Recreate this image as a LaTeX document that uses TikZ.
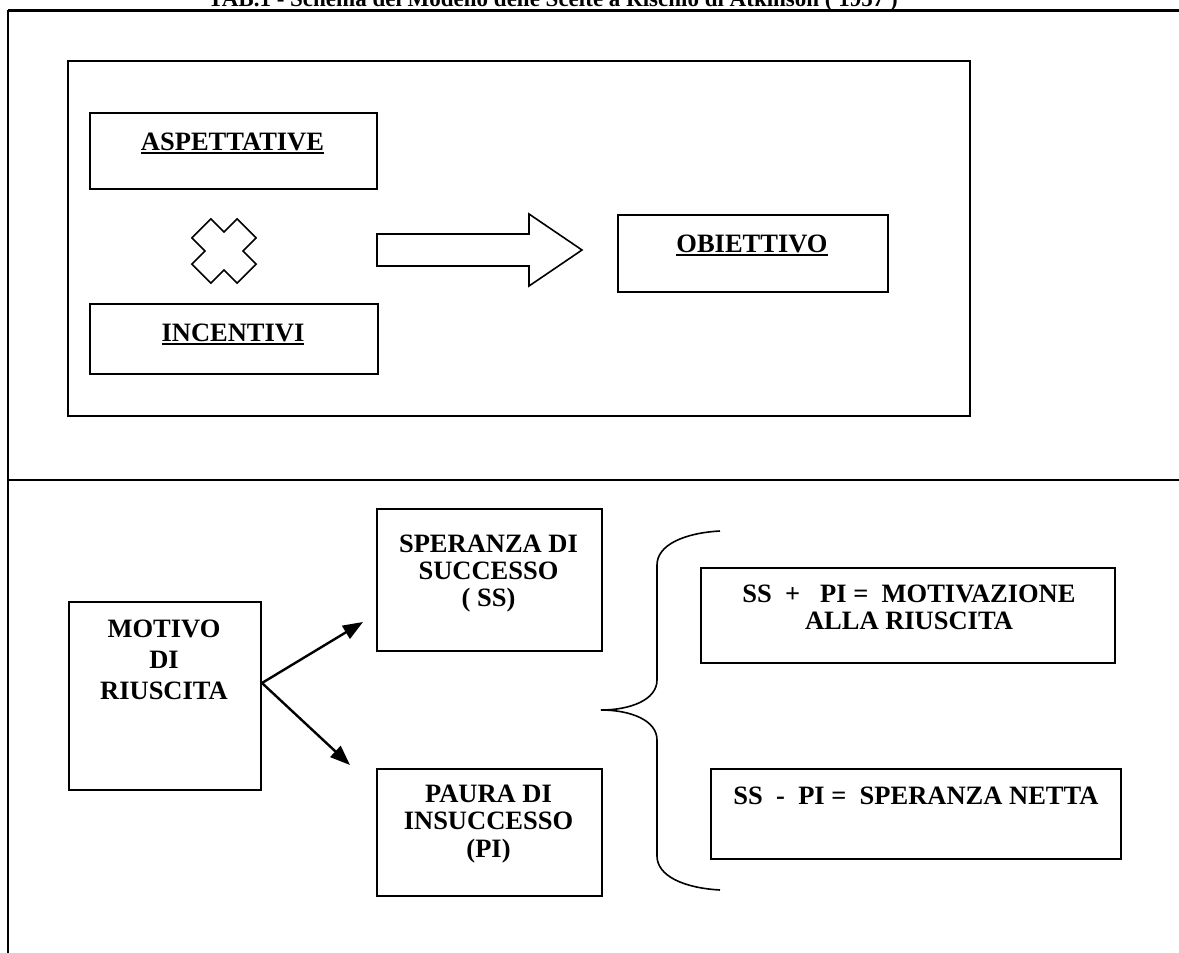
\documentclass[tikz,border=0pt]{standalone}
\usepackage{fontspec}
\setmainfont{Liberation Serif}
\usetikzlibrary{arrows.meta,calc}
\newcommand{\myul}[1]{\setbox0\hbox{#1}\rlap{\rule[-4pt]{\wd0}{2.4pt}}\box0}
\begin{document}
\begin{tikzpicture}[x=1pt,y=-1pt,
  frameline/.style={line width=2.6pt},
  box/.style={draw, line width=2pt, rectangle, inner sep=0pt, anchor=north west},
  lbl/.style={font=\fontsize{26.5}{27}\bfseries\selectfont, align=center, anchor=north, inner sep=0pt},
  outline/.style={line width=1.6pt, line join=miter},
  link/.style={line width=2.4pt, -{Triangle[length=20pt,width=15pt]}}]
\useasboundingbox (0,0) rectangle (1179,953);
% title (cut by the page top)
\node[font=\fontsize{23}{25}\bfseries\selectfont, anchor=base, inner sep=0pt] (title) at (553,6)
  {TAB.1 - Schema del Modello delle Scelte a Rischio di Atkinson ( 1957 )};
% table rules
\coordinate (tl) at (8,10);
\coordinate (tr) at (1179,10);
\coordinate (bl) at (8,953);
\coordinate (ml) at (8,480);
\coordinate (mr) at (1179,480);
\draw[line width=3pt] (tl) -- (tr);
\draw[frameline] (tl) -- (bl);
\draw[frameline] (ml) -- (mr);
% upper section
\draw[frameline] (68,61) rectangle (970,416);
\node[box, minimum width=287pt, minimum height=76pt] (asp) at (89,112) {};
\node[lbl] (asptxt) at (232.5,132.5) {\myul{ASPETTATIVE}};
\node[box, minimum width=288pt, minimum height=70pt] (inc) at (89,303) {};
\node[lbl] (inctxt) at (233,323.5) {\myul{INCENTIVI}};
\node[box, minimum width=270pt, minimum height=77pt] (obi) at (617,214) {};
\node[lbl] (obitxt) at (752,234.5) {\myul{OBIETTIVO}};
% cross
\draw[outline, shift={(224,251)}, rotate=45]
  (13.4,13.4) -- (13.4,32) -- (-13.4,32) -- (-13.4,13.4) -- (-32,13.4) -- (-32,-13.4)
  -- (-13.4,-13.4) -- (-13.4,-32) -- (13.4,-32) -- (13.4,-13.4) -- (32,-13.4) -- (32,13.4) -- cycle;
% block arrow
\draw[outline] (377,234) -- (529,234) -- (529,214) -- (582,250) -- (529,286) -- (529,266) -- (377,266) -- cycle;
% lower section
\node[box, minimum width=192pt, minimum height=188pt] (mot) at (68,601) {};
\node[lbl, font=\fontsize{26.5}{31}\bfseries\selectfont] (mottxt) at (164,619.5) {MOTIVO\\DI\\RIUSCITA};
\node[box, minimum width=225pt, minimum height=142pt] (ss) at (376,508) {};
\node[lbl] (sstxt) at (488.5,534.5) {SPERANZA DI\\SUCCESSO\\( SS)};
\node[box, minimum width=225pt, minimum height=127pt] (pi) at (376,768) {};
\node[lbl, font=\fontsize{26.5}{27.5}\bfseries\selectfont] (pitxt) at (488.5,784.5) {PAURA DI\\INSUCCESSO\\(PI)};
\draw[link] ($(mot.east)+(0,-13)$) -- ($(ss.south west)+(-13,-30)$);
\draw[link] ($(mot.east)+(0,-13)$) -- ($(pi.north west)+(-26,-3)$);
% brace
\draw[line width=1.6pt] (720,531) .. controls (684,533) and (657,545) .. (657,565) -- (657,680)
  .. controls (657,700) and (630,710) .. (601,710)
  .. controls (630,710) and (657,720) .. (657,740) -- (657,856)
  .. controls (657,876) and (684,888) .. (720,890);
% results
\node[box, minimum width=414pt, minimum height=95pt] (mv) at (700,567) {};
\node[lbl] (mvtxt) at (909,584.5) {SS\ \ +\ \ \ PI =\ \ MOTIVAZIONE\\ALLA RIUSCITA};
\node[box, minimum width=410pt, minimum height=90pt] (sn) at (710,768) {};
\node[lbl] (sntxt) at (916,786.5) {SS\ \ -\ \ PI =\ \ SPERANZA NETTA};
\end{tikzpicture}
\end{document}
